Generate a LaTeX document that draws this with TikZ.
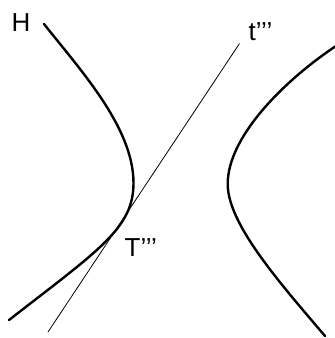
\documentclass[tikz,border=0pt]{standalone}
\usepackage{fontspec}
\newfontfamily\labelfont{Liberation Sans}
\begin{document}
\begin{tikzpicture}[x=1bp,y=-1bp,
  branch/.style={line width=2.4bp,line cap=round,line join=round},
  tangentline/.style={line width=0.8bp},
  lbl/.style={inner sep=0pt,anchor=base west,font=\labelfont\fontsize{26bp}{30bp}\selectfont}]
\useasboundingbox (0,0) rectangle (335,338);
% left branch of H
\coordinate (L1) at (44,24);
\coordinate (LV) at (133.5,183);
\coordinate (L2) at (9,320);
\draw[branch] (L1) .. controls (81.3,71) and (133.5,128) .. (LV)
  .. controls (133.5,228) and (99.8,249.4) .. (L2);
% right branch of H
\coordinate (R1) at (336,46);
\coordinate (RV) at (227.7,184);
\coordinate (R2) at (325,336);
\draw[branch] (R1) .. controls (290.1,76.3) and (227.7,134) .. (RV)
  .. controls (227.7,224) and (279.6,282.6) .. (R2);
% tangent t'''
\coordinate (tA) at (48,332);
\coordinate (tB) at (239.5,43.5);
\draw[tangentline] (tA) -- (tB);
% labels
\node[lbl] (lH) at (11.5,31.5) {H};
\node[lbl] (lt) at (248.5,40) {t’{}’{}’};
\node[lbl] (lT) at (124.5,256) {T’{}’{}’};
\end{tikzpicture}
\end{document}
